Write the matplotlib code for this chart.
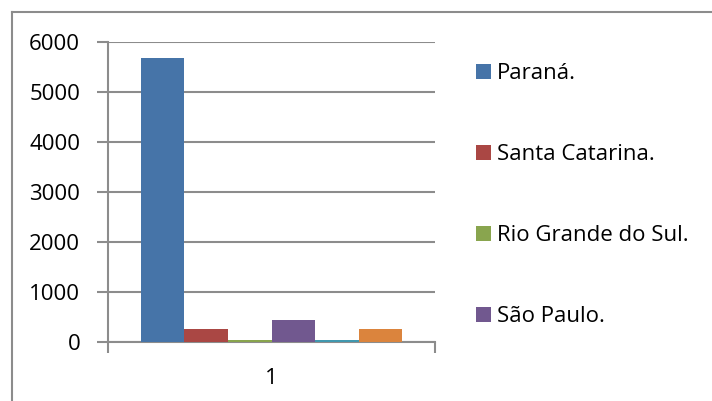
import matplotlib.pyplot as plt
from matplotlib.lines import Line2D
import numpy as np

categories = ["1"]
series_names = ["Paraná.", "Santa Catarina.", "Rio Grande do Sul.", "São Paulo.",
                "Série 5.", "Série 6."]
series_values = [5680, 255, 50, 440, 50, 270]
series_colors = ["#4674a8", "#aa4744", "#89a54e", "#71588f", "#4198af", "#db843d"]
legend_count = 4  # only the first four fit in the original legend
y_ticks = [0, 1000, 2000, 3000, 4000, 5000, 6000]

plt.rcParams["font.family"] = ["Open Sans", "DejaVu Sans"]
grid_color = "#8c8c8c"
font_size = 16

W, H = 712, 401
fig = plt.figure(figsize=(W / 100, H / 100), dpi=100)
ax = fig.add_axes([108 / W, 1 - 342 / H, (435 - 108) / W, 300 / H])

n = len(series_values)
bar_w = 1 / (n + 1.5)
bars = []
for i, (name, val, col) in enumerate(zip(series_names, series_values, series_colors)):
    b = ax.bar([1 + (i - (n - 1) / 2) * bar_w], [val], width=bar_w, color=col,
               label=name, zorder=3)
    bars.append(b)

ax.set_xlim(0.5, 1.5)
ax.set_ylim(0, 6000)
ax.set_yticks(y_ticks)
ax.set_yticklabels([str(t) for t in y_ticks], fontsize=font_size)
ax.set_xticks([1])
ax.set_xticklabels(categories, fontsize=font_size)
ax.tick_params(axis="x", length=0, pad=19)
ax.tick_params(axis="y", length=8, width=1.5, color=grid_color, pad=12)

# category boundary ticks at both ends of the x axis
ax.set_xticks([0.5, 1.5], minor=True)
ax.tick_params(axis="x", which="minor", length=8, width=1.5, color=grid_color)

ax.grid(axis="y", color=grid_color, linewidth=1.5, zorder=0)
for s in ["top", "right"]:
    ax.spines[s].set_visible(False)
for s in ["left", "bottom"]:
    ax.spines[s].set_color(grid_color)
    ax.spines[s].set_linewidth(1.5)

fig.legend(handles=bars[:legend_count], labels=series_names[:legend_count],
           loc="upper left", bbox_to_anchor=(476 / W, 1 - 63 / H), frameon=False,
           fontsize=font_size, handlelength=0.68, handleheight=0.68,
           handletextpad=0.25, labelspacing=2.7, borderaxespad=0, borderpad=0)

# outer chart frame (clipped on the right and bottom in the original)
fig.add_artist(Line2D([12 / W, 12 / W], [0, 1 - 12 / H], color="#8c8c8c", lw=1.5))
fig.add_artist(Line2D([12 / W, 1], [1 - 12 / H, 1 - 12 / H], color="#8c8c8c", lw=1.5))

fig.savefig("out.png", dpi=100)
